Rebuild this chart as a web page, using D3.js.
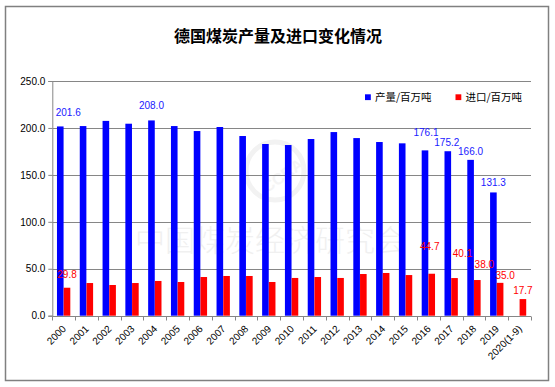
<!DOCTYPE html>
<html>
<head>
<meta charset="utf-8">
<script src="https://cdn.jsdelivr.net/npm/d3@7"></script>
<style>
  html, body { margin: 0; padding: 0; background: #fff; }
  svg { display: block; }
</style>
</head>
<body>
<svg id="chart" width="555" height="387"></svg>
<script>
const categories = ["2000","2001","2002","2003","2004","2005","2006","2007","2008","2009","2010","2011","2012","2013","2014","2015","2016","2017","2018","2019","2020(1-9)"];
const production = [201.6, 202.0, 207.5, 204.5, 208.0, 202.0, 196.7, 201.0, 191.4, 182.9, 181.8, 188.2, 195.6, 189.2, 185.0, 183.6, 176.1, 175.2, 166.0, 131.3, null];
const imports = [29.8, 34.8, 32.7, 34.8, 37.0, 35.9, 41.2, 42.3, 42.3, 35.9, 40.2, 41.2, 40.2, 44.4, 45.5, 43.3, 44.7, 40.1, 38.0, 35.0, 17.7];
const productionLabeled = ["2000","2004","2016","2017","2018","2019"];
const importsLabeled = ["2000","2016","2017","2018","2019","2020(1-9)"];
const yTicks = [0, 50, 100, 150, 200, 250];
const seriesNames = ["产量/百万吨", "进口/百万吨"];
const title = "德国煤炭产量及进口变化情况";
const watermark = "中国煤炭经济研究会";

(function () {
const svg = d3.select("#chart");
const pLeft = 52.3, pRight = 531, pTop = 81, pBottom = 315.7;
const BLUE = "#0000ff", RED = "#ff0000", GRID = "#868686";
const numFont = "'Liberation Sans', Arial, sans-serif";
const cjkFont = "'Noto Sans CJK SC', sans-serif";

// outer border
svg.append("rect").attr("x", 5.5).attr("y", 6.5).attr("width", 543).attr("height", 374)
  .attr("fill", "#fff").attr("stroke", "#808080").attr("stroke-width", 1.5);

// title
svg.append("text").attr("x", 278).attr("y", 42).attr("text-anchor", "middle")
  .attr("font-family", cjkFont).attr("font-weight", "bold").attr("font-size", 16)
  .attr("fill", "#000").text(title);

const x = d3.scaleBand().domain(categories).range([pLeft, pRight]).paddingInner(0).paddingOuter(0);
const y = d3.scaleLinear().domain([0, 250]).range([pBottom, pTop]);
const bw = x.bandwidth();
const subW = bw * 0.29;
const blueX = c => x(c) + bw * 0.205;
const redX = c => x(c) + bw * 0.5;

// watermark
const wm = svg.append("g");
wm.append("circle").attr("cx", 275).attr("cy", 171).attr("r", 29)
  .attr("fill", "none").attr("stroke", "#f2f2f2").attr("stroke-width", 5);
wm.append("text").attr("x", 283).attr("y", 181).attr("text-anchor", "middle")
  .attr("font-family", numFont).attr("font-weight", "bold").attr("font-size", 16)
  .attr("fill", "#f4f4f4").attr("transform", "rotate(-35,283,176)").text("CCRA");
wm.append("text").attr("x", 270).attr("y", 251).attr("text-anchor", "middle")
  .attr("font-family", cjkFont).attr("font-weight", 300).attr("font-size", 30)
  .attr("fill", "#f0f0f0").text(watermark);

// gridlines
svg.append("g").selectAll("line").data(yTicks.filter(t => t > 0)).join("line")
  .attr("x1", pLeft).attr("x2", pRight)
  .attr("y1", d => Math.round(y(d)) + 0.5).attr("y2", d => Math.round(y(d)) + 0.5)
  .attr("stroke", GRID).attr("stroke-width", 1);

// y axis
const yAxis = d3.axisLeft(y).tickValues(yTicks).tickFormat(d3.format(".1f")).tickSize(4).tickPadding(3);
const gy = svg.append("g").attr("transform", `translate(${pLeft},0)`).call(yAxis);
gy.select(".domain").attr("stroke", GRID);
gy.selectAll(".tick line").attr("stroke", GRID);
gy.selectAll(".tick text").attr("font-family", numFont).attr("font-size", 10).attr("fill", "#000");

// bars
svg.append("g").selectAll("rect").data(categories.map((c, i) => ({c, v: production[i]})).filter(d => d.v != null))
  .join("rect").attr("x", d => blueX(d.c)).attr("width", subW)
  .attr("y", d => y(d.v)).attr("height", d => y(0) - y(d.v)).attr("fill", BLUE);
svg.append("g").selectAll("rect").data(categories.map((c, i) => ({c, v: imports[i]})).filter(d => d.v != null))
  .join("rect").attr("x", d => redX(d.c)).attr("width", subW)
  .attr("y", d => y(d.v)).attr("height", d => y(0) - y(d.v)).attr("fill", RED);

// x axis
const gx = svg.append("g").attr("transform", `translate(0,${Math.round(pBottom) + 0.5})`);
gx.append("line").attr("x1", pLeft).attr("x2", pRight).attr("stroke", GRID);
const bounds = categories.map(c => x(c)).concat([pRight]);
gx.selectAll("line.tk").data(bounds).join("line").attr("class", "tk")
  .attr("x1", d => Math.round(d) + 0.5).attr("x2", d => Math.round(d) + 0.5)
  .attr("y1", 0).attr("y2", 4).attr("stroke", GRID);
gx.selectAll("text").data(categories).join("text")
  .attr("text-anchor", "end").attr("font-family", numFont).attr("font-size", 10).attr("fill", "#000")
  .attr("transform", c => `translate(${x(c) + bw / 2 + 3},${13}) rotate(-45)`)
  .text(c => c);

// data labels (manual nudges like the original)
const blueNudge = {"2000": [8, -14], "2004": [0, -15], "2016": [1, -18], "2017": [-1, -9], "2018": [0, -8], "2019": [0, -10]};
const redNudge = {"2000": [0, -13], "2016": [-2, -27], "2017": [8, -25], "2018": [7, -16], "2019": [5, -7], "2020(1-9)": [0, -9]};
svg.append("g").selectAll("text").data(productionLabeled).join("text")
  .attr("x", c => blueX(c) + subW / 2 + blueNudge[c][0])
  .attr("y", c => y(production[categories.indexOf(c)]) + blueNudge[c][1] + 3.5)
  .attr("text-anchor", "middle").attr("font-family", numFont).attr("font-size", 10).attr("fill", "#1a1aff")
  .text(c => production[categories.indexOf(c)].toFixed(1));
svg.append("g").selectAll("text").data(importsLabeled).join("text")
  .attr("x", c => redX(c) + subW / 2 + redNudge[c][0])
  .attr("y", c => y(imports[categories.indexOf(c)]) + redNudge[c][1] + 3.5)
  .attr("text-anchor", "middle").attr("font-family", numFont).attr("font-size", 10).attr("fill", RED)
  .text(c => imports[categories.indexOf(c)].toFixed(1));

// legend
const legend = svg.append("g");
const legX = [365, 455.5];
[BLUE, RED].forEach((col, i) => {
  legend.append("rect").attr("x", legX[i]).attr("y", 94.3).attr("width", 5.8).attr("height", 5.8).attr("fill", col);
  legend.append("text").attr("x", legX[i] + 10).attr("y", 101.3)
    .attr("font-family", cjkFont).attr("font-size", 10.5).attr("fill", "#000").text(seriesNames[i]);
});
})();
</script>
</body>
</html>
